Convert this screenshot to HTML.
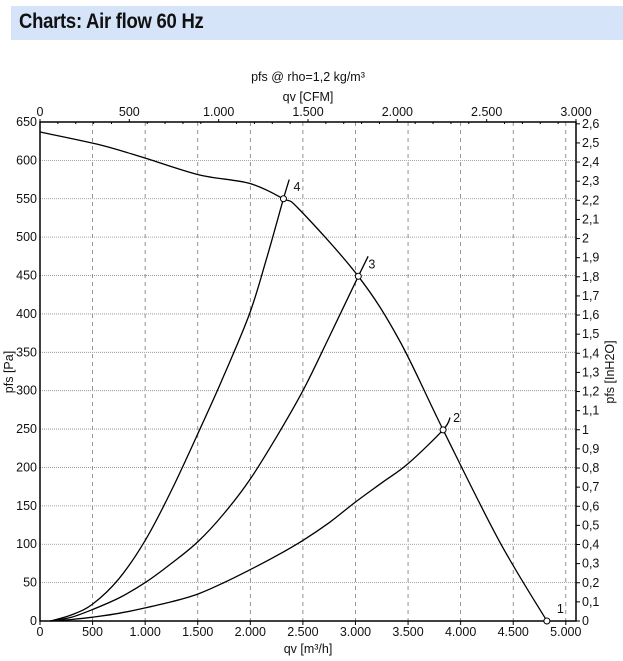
<!DOCTYPE html>
<html><head><meta charset="utf-8"><style>
body{margin:0;background:#fff;width:623px;height:661px;overflow:hidden;font-family:"Liberation Sans",sans-serif}
#hdr{position:absolute;left:11px;top:6px;width:612px;height:34px;background:#d6e4fa}
#hdr span{position:absolute;left:8px;top:4px;font-size:21px;font-weight:bold;color:#111;transform:scaleX(0.88);transform-origin:left;letter-spacing:-0.3px}
svg{position:absolute;left:0;top:0}
text{font-family:"Liberation Sans",sans-serif;font-size:12.5px;fill:#111}
</style></head><body>
<div id="hdr"><span>Charts: Air flow 60 Hz</span></div>
<svg id="c" width="623" height="661"></svg>
<script>
const xTicks=[0,500,1000,1500,2000,2500,3000,3500,4000,4500,5000];
const xTickLabels=["0","500","1.000","1.500","2.000","2.500","3.000","3.500","4.000","4.500","5.000"];
const cfmTicks=[0,500,1000,1500,2000,2500,3000];
const cfmTickLabels=["0","500","1.000","1.500","2.000","2.500","3.000"];
const yTicks=[0,50,100,150,200,250,300,350,400,450,500,550,600,650];
const inTicks=[0,0.1,0.2,0.3,0.4,0.5,0.6,0.7,0.8,0.9,1,1.1,1.2,1.3,1.4,1.5,1.6,1.7,1.8,1.9,2,2.1,2.2,2.3,2.4,2.5,2.6];
const fanQ=[0,575,1000,1518,1992,2315,2467,3027,3416,3833,4364,4820];
const fanP=[637,620,603,581,570,550,536,449,366,249,105,0];
const sys4Q=[100,300,500,750,1000,1250,1518,1750,1992,2150,2315,2370];
const sys4P=[0,8,22,55,105,170,249,320,400,470,550,575];
const sys3Q=[100,300,500,750,1000,1250,1500,1750,2000,2250,2500,2750,3027,3120];
const sys3P=[0,5,15,30,50,75,103,140,185,240,300,370,449,475];
const sys2Q=[100,300,500,750,1000,1250,1500,1750,2000,2250,2500,2750,3000,3250,3500,3833,3900];
const sys2P=[0,2,5,10,17,25,35,50,67,85,105,128,155,180,205,249,265];
const opQ=[4820,3833,3027,2315];
const opP=[0,249,449,550];
const opLabels=["1","2","3","4"];
const X0=40,X1=576,Y0=621,Y1=122,QMAX=5097,PMAX=650;
const sx=q=>X0+q/QMAX*(X1-X0), sy=p=>Y0-p/PMAX*(Y0-Y1);
const PA_PER_IN=249.09, M3H_PER_CFM=1.699;
const svg=document.getElementById('c');const NS='http://www.w3.org/2000/svg';
function el(t,a,txt){const e=document.createElementNS(NS,t);for(const k in a)e.setAttribute(k,a[k]);if(txt!==undefined)e.textContent=txt;svg.appendChild(e);return e;}
xTicks.forEach((q,i)=>{if(q>0&&q<QMAX){const g=el('line',{x1:sx(q),x2:sx(q),y1:Y1,y2:Y0,stroke:'#777','stroke-dasharray':'4,4','stroke-width':0.8});}
 const t=el('text',{x:sx(q),y:Y0+15,'text-anchor':'middle'},xTickLabels[i]);
 el('line',{x1:sx(q),x2:sx(q),y1:Y0,y2:Y0+4,stroke:'#000'});});
yTicks.forEach(p=>{if(p>0&&p<PMAX){const g=el('line',{x1:X0,x2:X1,y1:sy(p),y2:sy(p),stroke:'#888','stroke-dasharray':'1,1','stroke-width':0.8});}
 const t=el('text',{x:X0-3,y:sy(p)+4,'text-anchor':'end'},String(p));});
cfmTicks.forEach((c,i)=>{const x=sx(c*M3H_PER_CFM);el('line',{x1:x,x2:x,y1:Y1-3,y2:Y1,stroke:'#000'});
 const t=el('text',{x:x,y:Y1-6,'text-anchor':'middle'},cfmTickLabels[i]);});
for(let c=100;c<3000;c+=100){if(c%500)el('line',{x1:sx(c*M3H_PER_CFM),x2:sx(c*M3H_PER_CFM),y1:Y1,y2:Y1+2,stroke:'#000'});}
inTicks.forEach(v=>{const y=sy(v*PA_PER_IN);el('line',{x1:X1,x2:X1+4,y1:y,y2:y,stroke:'#000'});
 const t=el('text',{x:X1+6,y:y+4},String(v).replace('.',','));});
const fr=el('rect',{x:X0,y:Y1,width:X1-X0,height:Y0-Y1,fill:'none',stroke:'#000','stroke-width':1.5});
function line(Q,P,name){const pts=Q.map((q,i)=>[sx(q),sy(P[i])]);let d='M'+pts[0][0].toFixed(1)+','+pts[0][1].toFixed(1);
 for(let i=0;i<pts.length-1;i++){const p0=pts[Math.max(0,i-1)],p1=pts[i],p2=pts[i+1],p3=pts[Math.min(pts.length-1,i+2)];
  const c1=[p1[0]+(p2[0]-p0[0])/6,p1[1]+(p2[1]-p0[1])/6],c2=[p2[0]-(p3[0]-p1[0])/6,p2[1]-(p3[1]-p1[1])/6];
  d+='C'+c1[0].toFixed(1)+','+c1[1].toFixed(1)+' '+c2[0].toFixed(1)+','+c2[1].toFixed(1)+' '+p2[0].toFixed(1)+','+p2[1].toFixed(1);}
 const e=el('path',{d:d,fill:'none',stroke:'#000','stroke-width':1.3,'stroke-linejoin':'round'});}
line(fanQ,fanP,'fan-curve');line(sys4Q,sys4P,'system-curve-4');line(sys3Q,sys3P,'system-curve-3');line(sys2Q,sys2P,'system-curve-2');
opQ.forEach((q,i)=>{const c=el('circle',{cx:sx(q),cy:sy(opP[i]),r:3,fill:'#fff',stroke:'#000','stroke-width':1});
 const t=el('text',{x:sx(q)+10,y:sy(opP[i])-8},opLabels[i]);});
const a=el('text',{x:308,y:81,'text-anchor':'middle'},'pfs @ rho=1,2 kg/m³');
const b=el('text',{x:308,y:101,'text-anchor':'middle'},'qv [CFM]');
const c2=el('text',{x:308,y:653,'text-anchor':'middle'},'qv [m³/h]');
const d=el('text',{x:13,y:372,'text-anchor':'middle',transform:'rotate(-90 13 372)'},'pfs [Pa]');
const e=el('text',{x:614,y:372,'text-anchor':'middle',transform:'rotate(-90 614 372)'},'pfs [InH2O]');
</script></body></html>
